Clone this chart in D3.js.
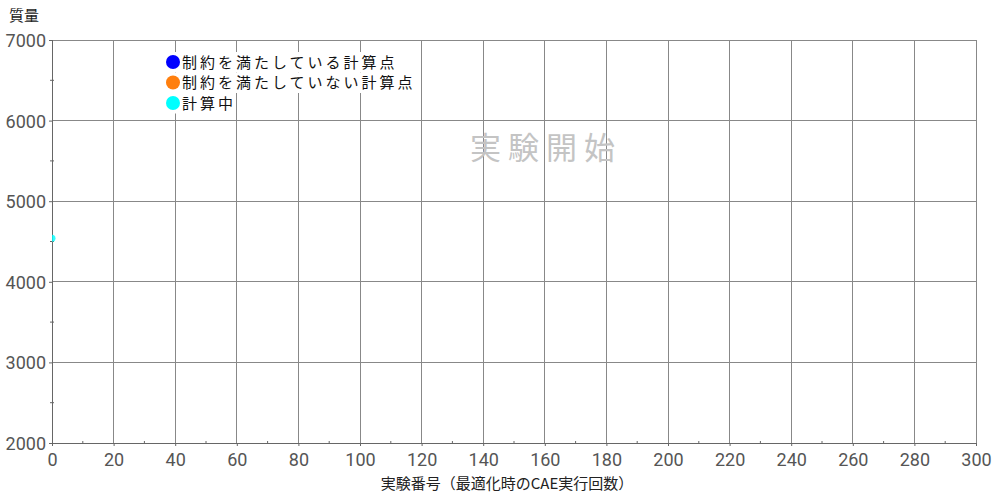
<!DOCTYPE html>
<html><head><meta charset="utf-8">
<script src="https://cdn.jsdelivr.net/npm/d3@7"></script>
<style>body{margin:0;background:#fff;}svg{display:block;font-family:"Liberation Sans",Arial,sans-serif;}</style>
</head><body>
<svg id="c" width="1000" height="497"></svg>
<script>
const xTicks = [0,20,40,60,80,100,120,140,160,180,200,220,240,260,280,300];
const yTicks = [2000,3000,4000,5000,6000,7000];
const legendLabels = ["制約を満たしている計算点","制約を満たしていない計算点","計算中"];
const legendColors = ["#0000ff","#ff7f0e","#00ffff"];
const pointX = [0];
const pointY = [4540];
const pointStatus = [2];
const xTitle = "実験番号（最適化時のCAE実行回数）";
const yTitle = "質量";
const watermark = "実験開始";

const svg = d3.select("#c");
const m = {l:52, r:976, t:40, b:443};
const x = d3.scaleLinear().domain([0,300]).range([m.l,m.r]);
const y = d3.scaleLinear().domain([2000,7000]).range([m.b,m.t]);

// grid
svg.append("g").selectAll("line").data(xTicks.slice(1)).join("line")
  .attr("x1",d=>x(d)).attr("x2",d=>x(d)).attr("y1",m.t).attr("y2",m.b)
  .attr("stroke","#888").attr("stroke-width",1).attr("shape-rendering","crispEdges");
svg.append("g").selectAll("line").data(yTicks.slice(1)).join("line")
  .attr("x1",m.l).attr("x2",m.r).attr("y1",d=>y(d)).attr("y2",d=>y(d))
  .attr("stroke","#888").attr("stroke-width",1).attr("shape-rendering","crispEdges");

// axes
const xa = svg.append("g").attr("transform",`translate(0,${m.b})`)
  .call(d3.axisBottom(x).tickValues(xTicks).tickFormat(d3.format("d")).tickSize(3).tickPadding(3));
const ya = svg.append("g").attr("transform",`translate(${m.l},0)`)
  .call(d3.axisLeft(y).tickValues(yTicks).tickFormat(d3.format("d")).tickSize(3).tickPadding(3));
[xa,ya].forEach(a=>{
  a.attr("font-family","Roboto,'Liberation Sans',Arial,sans-serif");
  a.select(".domain").attr("stroke","#666").attr("shape-rendering","crispEdges");
  a.selectAll(".tick line").attr("stroke","#666");
  a.selectAll("text").attr("fill","#555").attr("font-size","18px");
});
xa.selectAll("text").attr("dy","0.95em");
ya.selectAll("text").attr("dy","0.36em");
// minor ticks
const xMinor = d3.range(10,300,20);
svg.append("g").selectAll("line").data(xMinor).join("line")
  .attr("x1",d=>x(d)).attr("x2",d=>x(d)).attr("y1",m.b-2).attr("y2",m.b+1).attr("stroke","#666");
const yMinor = d3.range(2500,7000,1000);
svg.append("g").selectAll("line").data(yMinor).join("line")
  .attr("x1",m.l-2).attr("x2",m.l+2).attr("y1",d=>y(d)).attr("y2",d=>y(d)).attr("stroke","#666");

// watermark
svg.append("text").attr("x",546).attr("y",159).attr("text-anchor","middle")
  .attr("font-size","31px").attr("fill","#c4c4c4").attr("letter-spacing","7px")
  .attr("font-family","'Noto Sans CJK JP',sans-serif").text(watermark);

// points
svg.append("clipPath").attr("id","clip").append("rect")
  .attr("x",m.l).attr("y",m.t).attr("width",m.r-m.l).attr("height",m.b-m.t);
svg.append("g").attr("clip-path","url(#clip)").selectAll("circle").data(pointX).join("circle")
  .attr("cx",(d,i)=>x(d)).attr("cy",(d,i)=>y(pointY[i])).attr("r",3.5)
  .attr("fill",(d,i)=>legendColors[pointStatus[i]]).attr("opacity",0.8);

// legend
const lg = svg.append("g");
legendLabels.forEach((t,i)=>{
  const cy = 62 + i*20.5;
  const g = lg.append("g");
  const bg = g.append("rect").attr("fill","#fff");
  g.append("circle").attr("cx",173).attr("cy",cy).attr("r",7).attr("fill",legendColors[i]);
  const tx = g.append("text").attr("x",182).attr("y",cy+5.5).attr("font-size","15px")
    .attr("letter-spacing","3px").attr("fill","#111")
    .attr("font-family","'Noto Sans CJK JP',sans-serif").text(t);
  const bb = tx.node().getBBox();
  bg.attr("x",165).attr("y",cy-10).attr("width",bb.x+bb.width-165).attr("height",20.5);
});

// titles
svg.append("text").attr("x",507).attr("y",489).attr("text-anchor","middle")
  .attr("font-size","15px").attr("fill","#222")
  .attr("font-family","'Noto Sans CJK JP',sans-serif").text(xTitle);
svg.append("text").attr("x",9).attr("y",21)
  .attr("font-size","15px").attr("fill","#222")
  .attr("font-family","'Noto Sans CJK JP',sans-serif").text(yTitle);
</script>
</body></html>
